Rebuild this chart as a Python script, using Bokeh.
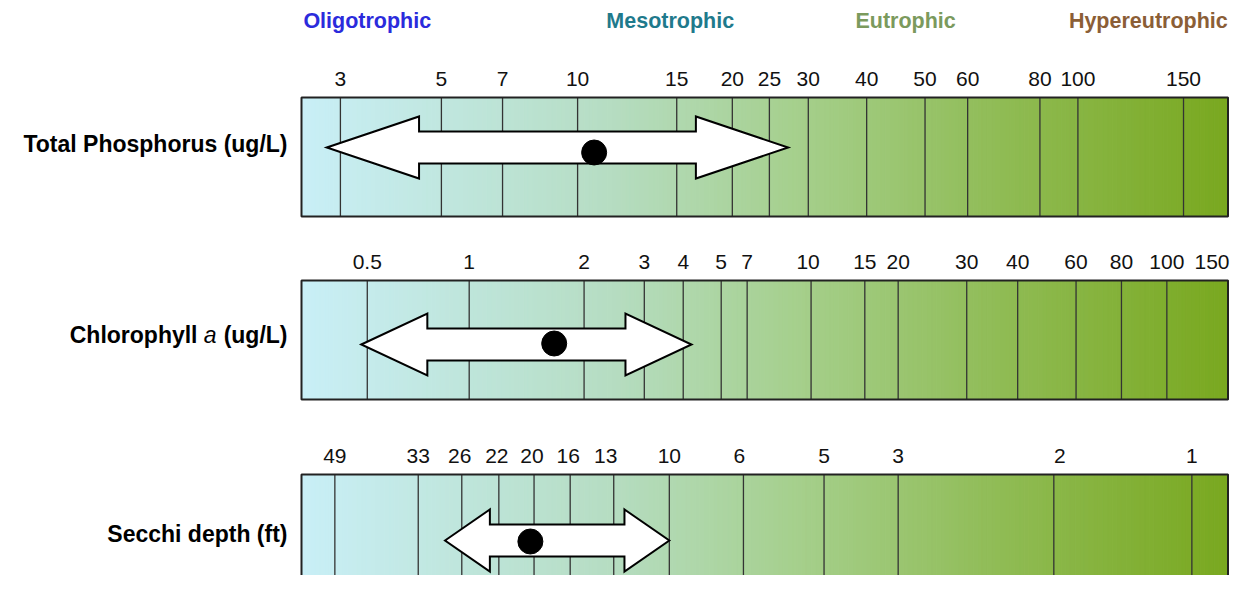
import numpy as np
from bokeh.plotting import figure
from bokeh.models import Range1d
from bokeh.core.properties import value
from bokeh.embed import file_html
from bokeh.resources import INLINE

# ---------------- data ----------------
states = ["Oligotrophic", "Mesotrophic", "Eutrophic", "Hypereutrophic"]
state_pos = [7.1, 39.8, 65.2, 91.4]          # position on the common trophic scale (0-100)
state_colors = ["#2b2bdc", "#1f7a8c", "#7b9a5d", "#8b5e36"]

row_names = ["Total Phosphorus (ug/L)", "Chlorophyll a (ug/L)", "Secchi depth (ft)"]

tp_ticks = [3, 5, 7, 10, 15, 20, 25, 30, 40, 50, 60, 80, 100, 150]
tp_pos = [4.2, 15.1, 21.7, 29.8, 40.5, 46.5, 50.5, 54.7, 61.0, 67.3, 71.9, 79.7, 83.8, 95.2]
tp_range = [2.8, 27.3]
tp_mean = 10.7

chl_ticks = [0.5, 1, 2, 3, 4, 5, 7, 10, 15, 20, 30, 40, 60, 80, 100, 150]
chl_pos = [7.1, 18.1, 30.5, 37.0, 41.2, 45.3, 48.1, 55.0, 60.8, 64.4, 71.8, 77.3, 83.6, 88.5, 93.4, 100.0]
chl_range = [0.48, 4.2]
chl_mean = 1.67

sd_ticks = [49, 33, 26, 22, 20, 16, 13, 10, 6, 5, 3, 2, 1]
sd_pos = [3.6, 12.6, 17.3, 21.3, 25.1, 29.0, 33.7, 39.7, 47.7, 56.4, 64.4, 81.2, 96.1]
sd_range = [28.5, 10]
sd_mean = 20.2

rows = [
    (tp_ticks, tp_pos, tp_range, tp_mean),
    (chl_ticks, chl_pos, chl_range, chl_mean),
    (sd_ticks, sd_pos, sd_range, sd_mean),
]

# ---------------- layout / style ----------------
W, H = 1234, 575
PX_PER_UNIT = 9.265
X0_PIX = 301
bar_tops = [97, 280, 474]
bar_h = 119
arrow_y = [147, 344, 540]
dot_y = [152, 343, 541]
label_y = [143, 334, 533]
FONT = value("Liberation Sans")
# small horizontal nudges (px) of some tick labels, as in the original drawing
label_nudge = [
    {},
    {"10": -3, "150": -16},
    {"26": -2, "22": -2, "20": -2, "16": -2, "13": -8, "6": -4, "2": 6},
]

grad_stops = [0, 33, 54, 75, 100]
grad_cols = ["#c9eff7", "#b6ddc3", "#a5cf8b", "#90bc56", "#79a81f"]


def to_pos(v, ticks, pos):
    lt = np.log(np.array(ticks, float))
    p = np.array(pos, float)
    o = np.argsort(lt)
    lt, p = lt[o], p[o]
    lv = np.log(v)
    if lv < lt[0]:
        return p[0] + (lv - lt[0]) * (p[1] - p[0]) / (lt[1] - lt[0])
    if lv > lt[-1]:
        return p[-1] + (lv - lt[-1]) * (p[-1] - p[-2]) / (lt[-1] - lt[-2])
    return float(np.interp(lv, lt, p))


def hex2rgb(h):
    return np.array([int(h[i:i + 2], 16) for i in (1, 3, 5)], float)


def grad_color(x):
    rgb = [np.interp(x, grad_stops, [hex2rgb(c)[k] for c in grad_cols]) for k in range(3)]
    return "#%02x%02x%02x" % tuple(int(round(c)) for c in rgb)


xmin = (0 - X0_PIX) / PX_PER_UNIT
xmax = (W - X0_PIX) / PX_PER_UNIT

p = figure(width=W, height=H, x_range=Range1d(xmin, xmax), y_range=Range1d(H, 0),
           output_backend="svg", toolbar_location=None, min_border=0,
           x_axis_location=None, y_axis_location=None)
p.grid.visible = False
p.outline_line_color = None
p.background_fill_color = "white"
p.border_fill_color = "white"

# headers
p.text(x=state_pos, y=[20] * 4, text=states, text_color=state_colors,
       text_font=FONT, text_font_style="bold", text_font_size="21.5px",
       text_align="center", text_baseline="middle")

n = 200
edges = np.linspace(0, 100, n + 1)
for i, (ticks, pos, rng, mean) in enumerate(rows):
    top = bar_tops[i]
    bot = top + bar_h
    # gradient fill
    cols = [grad_color(0.5 * (a + b)) for a, b in zip(edges[:-1], edges[1:])]
    p.quad(left=edges[:-1], right=edges[1:], top=[top] * n, bottom=[bot] * n,
           fill_color=cols, line_color=cols, line_width=1)
    # tick lines
    p.segment(x0=pos, x1=pos, y0=[top] * len(pos), y1=[bot] * len(pos),
              line_color="#333333", line_width=1.3)
    # tick labels
    labels = [str(t) for t in ticks]
    p.text(x=pos, y=[top - 19] * len(pos), text=labels,
           x_offset=[label_nudge[i].get(s, 0) for s in labels],
           text_font=FONT, text_font_size="21px", text_color="#111111",
           text_align="center", text_baseline="middle")
    # bar border
    p.quad(left=[0], right=[100], top=[top], bottom=[bot], fill_color=None,
           line_color="#222222", line_width=2)

    # double-headed arrow
    xa = min(to_pos(rng[0], ticks, pos), to_pos(rng[1], ticks, pos))
    xb = max(to_pos(rng[0], ticks, pos), to_pos(rng[1], ticks, pos))
    hl = 0.2 * (xb - xa)
    yc = arrow_y[i]
    hh, sh = 31, 16
    xs = [xa, xa + hl, xa + hl, xb - hl, xb - hl, xb, xb - hl, xb - hl, xa + hl, xa + hl]
    ys = [yc, yc - hh, yc - sh, yc - sh, yc - hh, yc, yc + hh, yc + sh, yc + sh, yc + hh]
    p.patch(xs, ys, fill_color="white", line_color="black", line_width=2, line_join="miter")
    # mean dot
    p.scatter(x=[to_pos(mean, ticks, pos)], y=[dot_y[i]], size=25, color="black")

# row labels
lab_x = (287 - X0_PIX) / PX_PER_UNIT
SZ = "23px"
p.text(x=[lab_x, lab_x], y=[label_y[0], label_y[2]],
       text=[row_names[0], row_names[2]], text_font=FONT, text_font_style="bold",
       text_font_size=SZ, text_color="black", text_align="right", text_baseline="middle")
p.text(x=[lab_x], y=[label_y[1]], text=["(ug/L)"], text_font=FONT, text_font_style="bold",
       text_font_size=SZ, text_color="black", text_align="right", text_baseline="middle")
p.text(x=[lab_x], y=[label_y[1]], text=["a"], x_offset=-71, text_font=FONT, text_font_style="italic",
       text_font_size=SZ, text_color="black", text_align="right", text_baseline="middle")
p.text(x=[lab_x], y=[label_y[1]], text=["Chlorophyll"], x_offset=-90, text_font=FONT,
       text_font_style="bold", text_font_size=SZ, text_color="black", text_align="right",
       text_baseline="middle")

open("out.html", "w").write(file_html(p, INLINE))
